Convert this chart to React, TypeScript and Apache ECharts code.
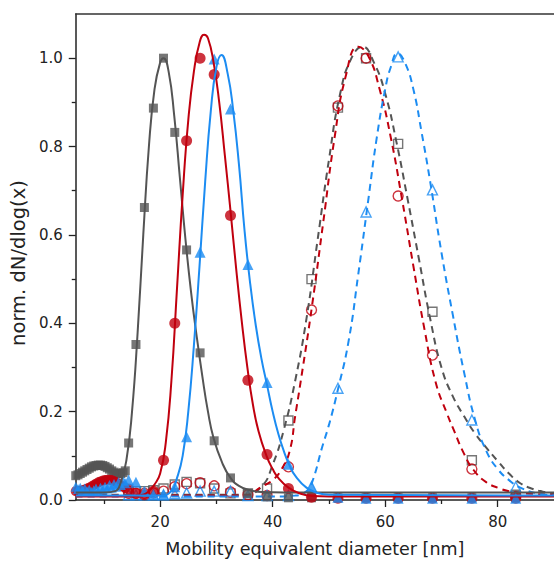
import React, { useEffect, useRef } from "react";
import * as echarts from "echarts";

// ---- marker data (sample diameters in nm) ----
const sizesLow = [5.0, 5.4, 5.8, 6.2, 6.6, 7.0, 7.4, 7.8, 8.2, 8.6, 9.0, 9.4, 9.8, 10.2, 10.6, 11.0, 11.4, 11.8, 12.2, 12.6, 13.0, 13.4, 13.8];
const grayLow = [0.055, 0.057, 0.06, 0.063, 0.066, 0.069, 0.072, 0.075, 0.077, 0.078, 0.079, 0.079, 0.078, 0.076, 0.073, 0.07, 0.066, 0.063, 0.06, 0.059, 0.06, 0.062, 0.066];
const redLow = [0.02, 0.02, 0.021, 0.022, 0.024, 0.026, 0.028, 0.031, 0.034, 0.037, 0.04, 0.042, 0.044, 0.045, 0.046, 0.046, 0.045, 0.043, 0.04, 0.037, 0.033, 0.03, 0.027];
const blueLow = [0.03, 0.025, 0.028, 0.022, 0.026, 0.02, 0.024, 0.018, 0.022, 0.026, 0.02, 0.028, 0.024, 0.03, 0.026, 0.034, 0.028, 0.036, 0.03, 0.04, 0.034, 0.044, 0.038];

const sizesMain = [14.4, 15.7, 17.2, 18.8, 20.6, 22.6, 24.7, 27.1, 29.6, 32.5, 35.6, 39.0, 42.8, 46.9, 51.6, 56.6, 62.3, 68.4, 75.4, 83.2];
const grayFilled = [0.129, 0.352, 0.662, 0.887, 1.0, 0.832, 0.566, 0.333, 0.134, 0.05, 0.015, 0.007, 0.005, 0.005, 0.005, 0.005, 0.005, 0.005, 0.005, 0.005];
const redFilled = [0.025, 0.015, 0.012, 0.02, 0.09, 0.4, 0.813, 1.0, 0.963, 0.644, 0.271, 0.103, 0.026, 0.006, 0.004, 0.004, 0.004, 0.004, 0.004, 0.004];
const blueFilled = [0.045, 0.04, 0.02, 0.012, 0.012, 0.03, 0.143, 0.561, 0.998, 0.885, 0.533, 0.266, 0.081, 0.029, 0.006, 0.004, 0.004, 0.004, 0.004, 0.004];
const grayOpen = [0.02, 0.02, 0.02, 0.022, 0.026, 0.035, 0.041, 0.038, 0.026, 0.015, 0.015, 0.026, 0.18, 0.5, 0.888, 1.0, 0.806, 0.426, 0.09, 0.012];
const redOpen = [0.015, 0.015, 0.015, 0.016, 0.02, 0.03, 0.037, 0.039, 0.032, 0.018, 0.012, 0.01, 0.075, 0.43, 0.892, 1.0, 0.688, 0.328, 0.07, 0.008];
const blueOpen = [0.012, 0.012, 0.012, 0.012, 0.012, 0.014, 0.016, 0.02, 0.02, 0.02, 0.01, 0.01, 0.01, 0.03, 0.253, 0.652, 1.003, 0.702, 0.181, 0.03];

// ---- fitted curves ----
const grayFitX = [5, 10, 12, 13, 14, 15, 16, 17, 18, 19, 20, 20.6, 21.5, 22.5, 23.5, 24.5, 25.5, 26.5, 27.5, 28.5, 29.5, 31, 32.5, 34, 36, 38, 42, 90];
const grayFitY = [0.017, 0.017, 0.02, 0.04, 0.09, 0.2, 0.38, 0.6, 0.8, 0.93, 0.99, 1.0, 0.97, 0.87, 0.73, 0.59, 0.47, 0.37, 0.28, 0.2, 0.14, 0.085, 0.05, 0.032, 0.022, 0.018, 0.017, 0.017];
const redFitX = [5, 15, 17, 18, 19, 20, 21, 22, 23, 24, 25, 26, 27, 27.8, 28.5, 29.5, 30.5, 31.5, 32.5, 33.5, 34.5, 35.5, 36.5, 37.5, 38.9, 40, 41, 42.8, 45, 47, 50, 90];
const redFitY = [0.008, 0.008, 0.012, 0.02, 0.035, 0.06, 0.13, 0.27, 0.48, 0.69, 0.86, 0.97, 1.035, 1.053, 1.045, 0.99, 0.9, 0.78, 0.655, 0.525, 0.405, 0.3, 0.215, 0.155, 0.1, 0.07, 0.05, 0.028, 0.014, 0.009, 0.008, 0.008];
const blueFitX = [5, 20, 22, 23, 24, 25, 26, 27, 28, 29, 30, 30.9, 32, 33, 34, 35, 36, 37, 38, 39, 40, 41, 42, 43, 44, 46, 48, 50, 90];
const blueFitY = [0.01, 0.01, 0.02, 0.05, 0.1, 0.2, 0.35, 0.53, 0.72, 0.88, 0.98, 1.007, 0.965, 0.88, 0.76, 0.61, 0.49, 0.395, 0.32, 0.26, 0.2, 0.15, 0.11, 0.078, 0.055, 0.028, 0.016, 0.012, 0.01];

const grayDashX = [5, 35, 38, 40, 42, 44, 46, 48, 50, 52, 54, 56, 58, 60, 62, 64, 66, 68, 70, 72, 74, 76, 78, 80, 82, 84, 86, 88, 90];
const grayDashY = [0.012, 0.012, 0.03, 0.08, 0.16, 0.27, 0.41, 0.59, 0.77, 0.92, 1.0, 1.026, 0.99, 0.92, 0.81, 0.68, 0.545, 0.41, 0.3, 0.235, 0.19, 0.15, 0.118, 0.088, 0.06, 0.038, 0.026, 0.019, 0.015];
const redDashX = [5, 35, 38, 40, 41.5, 43, 44, 45, 47, 49, 51, 53, 55.2, 57, 59, 61, 63, 65, 67, 69, 71, 72.2, 74, 75.7, 78, 80.4, 82, 85, 90];
const redDashY = [0.01, 0.01, 0.03, 0.045, 0.068, 0.11, 0.19, 0.27, 0.44, 0.63, 0.82, 0.96, 1.026, 1.005, 0.93, 0.82, 0.68, 0.53, 0.385, 0.265, 0.195, 0.158, 0.105, 0.068, 0.04, 0.026, 0.02, 0.015, 0.012];
const blueDashX = [5, 40, 44, 46, 47, 48.8, 50, 51.5, 53.5, 55.2, 57, 58.5, 60, 61, 62.2, 63.5, 65, 66.5, 68, 70, 72, 74, 76, 78, 80, 82, 84, 87, 90];
const blueDashY = [0.008, 0.008, 0.01, 0.02, 0.04, 0.12, 0.17, 0.245, 0.36, 0.51, 0.68, 0.82, 0.93, 0.98, 1.011, 0.99, 0.93, 0.83, 0.72, 0.56, 0.42, 0.29, 0.18, 0.11, 0.07, 0.045, 0.028, 0.015, 0.01];

// ---- axis ticks ----
const xMajor = [20, 40, 60, 80];
const xMinor = [10, 30, 50, 70];
const yMajor = [0, 0.2, 0.4, 0.6, 0.8, 1.0];
const yMinor = [0.1, 0.3, 0.5, 0.7, 0.9];

const GRAY = "#545454";
const RED = "#c0000e";
const BLUE = "#1c8cf2";
const AXIS = "#222222";
const FONT = "'DejaVu Sans', sans-serif";

const zip = (xs: number[], ys: number[]) => xs.map((x, i) => [x, ys[i]]);

export default function App() {
  const ref = useRef<HTMLDivElement>(null);
  useEffect(() => {
    if (!ref.current) return;
    const chart = echarts.init(ref.current, undefined, { renderer: "svg" });

    const scatter = (data: number[][], symbol: string, size: number, color: string, open: boolean, z: number) => ({
      type: "scatter",
      data,
      symbol,
      symbolSize: size,
      z,
      itemStyle: open
        ? { color: "rgba(255,255,255,0)", borderColor: color, borderWidth: 1.4 }
        : { color, borderWidth: 0 },
      emphasis: { disabled: true },
    });
    const line = (data: number[][], color: string, dashed: boolean, z: number) => ({
      type: "line",
      data,
      showSymbol: false,
      smooth: 0.5,
      z,
      lineStyle: { color, width: 2, type: dashed ? [7, 5] : "solid" },
      emphasis: { disabled: true },
    });

    const option = {
      animation: false,
      grid: { left: 70, top: 14, right: 0, bottom: 63 },
      xAxis: [
        {
          type: "value",
          min: 5,
          max: 90,
          position: "bottom",
          axisLine: { show: true, onZero: false, lineStyle: { color: AXIS, width: 1.5 } },
          axisTick: { show: true, customValues: xMajor, length: 7, lineStyle: { color: AXIS, width: 1.3 } },
          axisLabel: { customValues: xMajor, fontSize: 15, color: AXIS, fontFamily: FONT, margin: 14 },
          splitLine: { show: false },
          name: "Mobility equivalent diameter [nm]",
          nameLocation: "middle",
          nameGap: 40,
          nameTextStyle: { fontSize: 17.5, color: AXIS, fontFamily: FONT },
        },
        {
          type: "value",
          min: 5,
          max: 90,
          position: "bottom",
          axisLine: { show: false, onZero: false },
          axisTick: { show: true, customValues: xMinor, length: 4, lineStyle: { color: AXIS, width: 1.3 } },
          axisLabel: { show: false },
          splitLine: { show: false },
        },
        {
          type: "value",
          min: 5,
          max: 90,
          position: "top",
          axisLine: { show: true, onZero: false, lineStyle: { color: "#333", width: 1.6 } },
          axisTick: { show: false },
          axisLabel: { show: false },
          splitLine: { show: false },
        },
      ],
      yAxis: [
        {
          type: "value",
          min: 0,
          max: 1.1,
          position: "left",
          axisLine: { show: true, onZero: false, lineStyle: { color: AXIS, width: 1.5 } },
          axisTick: { show: true, customValues: yMajor, length: 7, lineStyle: { color: AXIS, width: 1.3 } },
          axisLabel: {
            customValues: yMajor,
            fontSize: 15,
            color: AXIS,
            fontFamily: FONT,
            margin: 13,
            formatter: (v: number) => v.toFixed(1),
          },
          splitLine: { show: false },
          name: "norm. dN/dlog(x)",
          nameLocation: "middle",
          nameGap: 41,
          nameTextStyle: { fontSize: 19.5, color: AXIS, fontFamily: FONT, padding: [0, 12, 0, 0] },
        },
        {
          type: "value",
          min: 0,
          max: 1.1,
          position: "left",
          axisLine: { show: false, onZero: false },
          axisTick: { show: true, customValues: yMinor, length: 4, lineStyle: { color: AXIS, width: 1.3 } },
          axisLabel: { show: false },
          splitLine: { show: false },
        },
      ],
      series: [
        scatter(zip(sizesMain, grayOpen), "rect", 9, GRAY, true, 2),
        scatter(zip(sizesMain, redOpen), "circle", 10, RED, true, 2),
        scatter(zip(sizesMain, blueOpen), "triangle", 10, BLUE, true, 2),
        line(zip(grayDashX, grayDashY), GRAY, true, 3),
        line(zip(redDashX, redDashY), RED, true, 3),
        line(zip(blueDashX, blueDashY), BLUE, true, 3),
        scatter(zip(sizesLow, grayLow), "rect", 9, GRAY, false, 4),
        scatter(zip(sizesMain, grayFilled), "rect", 9, GRAY, false, 4),
        scatter(zip(sizesLow, redLow), "circle", 10, RED, false, 4),
        scatter(zip(sizesMain, redFilled), "circle", 11, RED, false, 4),
        scatter(zip(sizesLow, blueLow), "triangle", 10, BLUE, false, 4),
        scatter(zip(sizesMain, blueFilled), "triangle", 11, BLUE, false, 4),
        line(zip(grayFitX, grayFitY), GRAY, false, 5),
        line(zip(redFitX, redFitY), RED, false, 5),
        line(zip(blueFitX, blueFitY), BLUE, false, 5),
      ],
    };
    chart.setOption(option as any);
    return () => chart.dispose();
  }, []);
  return (
    <div
      ref={ref}
      style={{ position: "fixed", left: 0, top: 0, width: 554, height: 563, background: "#fff" }}
    />
  );
}
